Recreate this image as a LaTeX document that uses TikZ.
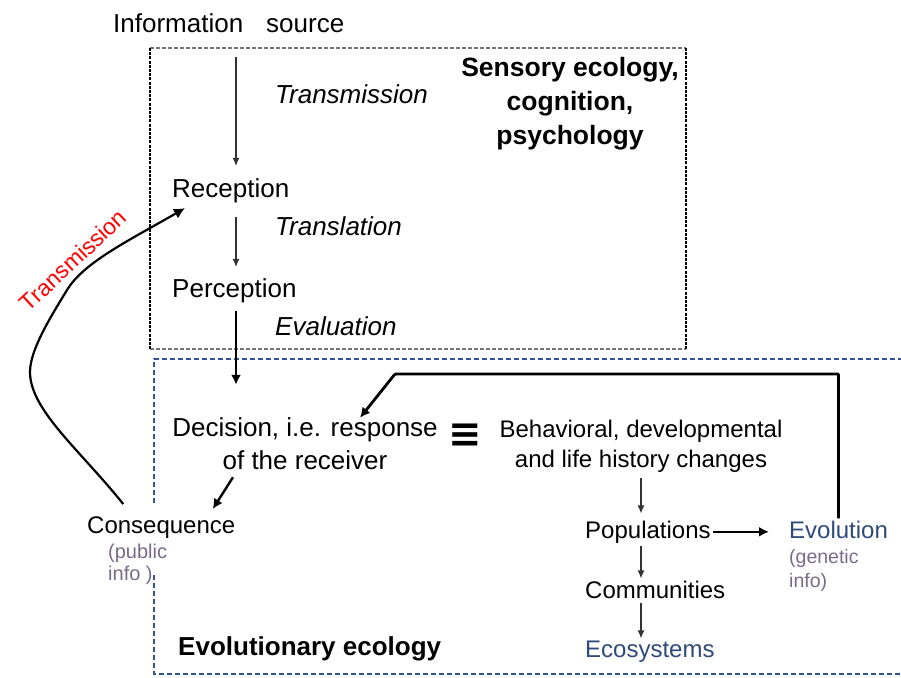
\documentclass[tikz,border=0pt]{standalone}
\usepackage{fontspec}
\setmainfont{Liberation Sans}
\newfontfamily\symfont{DejaVu Sans}
\usetikzlibrary{calc,arrows.meta}
\definecolor{boxblue}{HTML}{2F5597}
\definecolor{deepblue}{HTML}{2E4A7A}
\definecolor{infogray}{HTML}{7A6A8A}

\tikzset{
  lbl/.style={inner xsep=0pt, inner ysep=2pt, anchor=base west, font=\fontsize{26}{33}\selectfont},
  itl/.style={lbl, font=\fontsize{26}{33}\selectfont\itshape},
  sml/.style={lbl, font=\fontsize{24}{30}\selectfont},
  nfo/.style={inner xsep=0pt, inner ysep=2pt, anchor=west, align=left, text=infogray},
  thinarrow/.style={draw=black!80, line width=1.1pt, -{Latex[length=8pt,width=7pt]}},
  fatarrow/.style={draw=black, line width=2.4pt, -{Latex[length=10pt,width=10pt]}},
  blackbox/.style={draw=black, line width=2.6pt, dash pattern=on 3pt off 1.2pt},
  graybox/.style={draw=black!55, line width=1.8pt, dash pattern=on 4pt off 2pt},
  bluebox/.style={draw=boxblue, line width=1.6pt, dash pattern=on 5pt off 3pt}
}

\begin{document}
\begin{tikzpicture}[x=1pt, y=-1pt]
  \useasboundingbox (0,0) rectangle (901,677);
  % frames
  \draw[graybox] (150,48) -- (686,48);
  \draw[graybox] (150,349) -- (686,349);
  \draw[blackbox] (150,48) -- (150,349);
  \draw[blackbox] (686,48) -- (686,349);
  \draw[bluebox] (154,503) -- (154,359) -- (901,359);
  \draw[bluebox] (154,575) -- (154,674) -- (901,674);
  % nodes
  \node[lbl] (src) at (113,33) {Information\hspace{23pt}source};
  \node[itl] (tr1) at (275,103) {Transmission};
  \node[lbl] (recep) at (172,197) {Reception};
  \node[itl] (tr2) at (275,235) {Translation};
  \node[lbl] (perc) at (172,297) {Perception};
  \node[itl] (tr3) at (275,335) {Evaluation};
  \node[inner sep=2pt, align=center, font=\fontsize{26.5}{34}\selectfont\bfseries] (sens) at (570,104) {Sensory ecology,\\cognition,\\psychology};
  \node[inner sep=2pt, align=center, font=\fontsize{26}{33}\selectfont] (dec) at (305,444) {Decision, i.e. response\\of the receiver};
  \node[inner sep=0pt, font=\fontsize{40}{40}\selectfont\symfont\bfseries] (eq) at (465,436) {≡};
  \node[inner sep=2pt, align=center, font=\fontsize{24}{30}\selectfont] (beh) at (641,446) {Behavioral, developmental\\and life history changes};
  \node[sml] (cons) at (87,533) {Consequence};
  \node[nfo, font=\fontsize{20}{22}\selectfont] (pub) at (108,564.5) {(public\\info )};
  \node[sml] (pop) at (585,538) {Populations};
  \node[sml, text=deepblue] (evol) at (789,538) {Evolution};
  \node[nfo, font=\fontsize{19.5}{24}\selectfont] (gen) at (789,570) {(genetic\\info)};
  \node[sml] (comm) at (585,598) {Communities};
  \node[sml, text=deepblue] (eco) at (585,657) {Ecosystems};
  \node[lbl, font=\fontsize{26}{33}\selectfont\bfseries] (evoeco) at (178,655) {Evolutionary ecology};
  \node[inner sep=0pt, rotate=43, text=red, font=\fontsize{23}{23}\selectfont] (trlbl) at (73,260) {Transmission};
  % connectors
  \coordinate (ax) at (236,0);
  \coordinate (cx) at (641,0);
  \coordinate (fb) at (395,374);
  \draw[thinarrow, shorten <=22pt, shorten >=10pt] (src.south -| ax) -- (recep.north -| ax);
  \draw[thinarrow, shorten <=12pt, shorten >=9pt] (recep.south -| ax) -- (perc.north -| ax);
  \draw[fatarrow, shorten <=6pt, shorten >=31pt] (perc.south -| ax) -- (dec.north -| ax);
  \draw[fatarrow] ($(dec.south)+(-72,5)$) -- ($(cons.north)+(51.5,-5)$);
  \draw[fatarrow, line width=2.8pt, rounded corners=1pt] (evol.north) |- (fb) -- ($(dec.north)+(55,2)$);
  \draw[thinarrow, shorten <=4pt, shorten >=5pt] (beh.south -| cx) -- (pop.north -| cx);
  \draw[thinarrow, shorten <=1pt] (pop.south -| cx) -- (comm.north -| cx);
  \draw[thinarrow, shorten <=3pt] (comm.south -| cx) -- (eco.north -| cx);
  \draw[fatarrow, shorten <=2pt, shorten >=20pt] (pop.east) -- (pop.east -| evol.west);
  \draw[line width=2.2pt, -{Latex[length=11pt,width=11pt]}] ($(cons.north)+(-38,-10)$)
    .. controls (80,450) and (30,410) .. (30,372)
    .. controls (30,350) and (50,318) .. (67,290)
    .. controls (84,262) and (130,240) .. ($(recep.south west)+(13,3.5)$);
\end{tikzpicture}
\end{document}
